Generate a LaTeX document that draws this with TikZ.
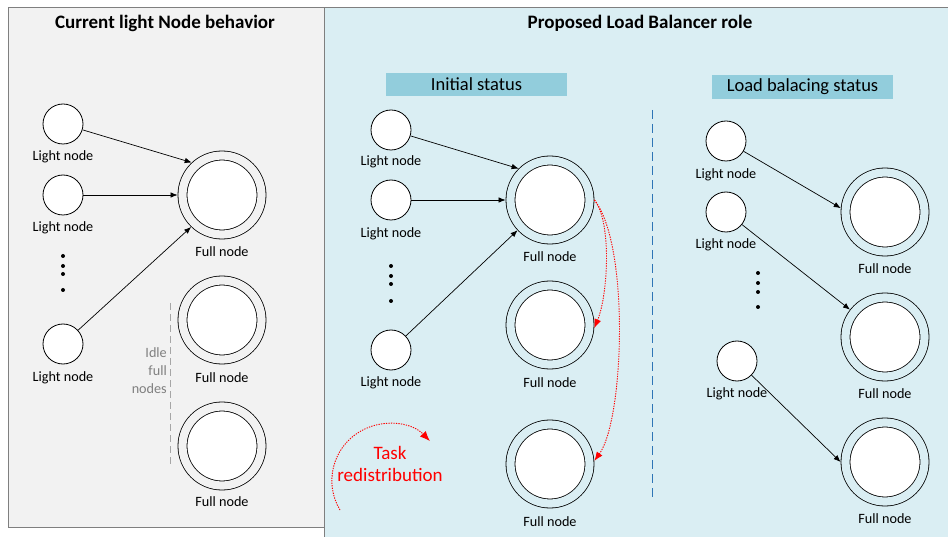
\documentclass[tikz,border=0pt]{standalone}
\usepackage{fontspec}
\setmainfont{Carlito}
\usetikzlibrary{arrows.meta}
\definecolor{leftbg}{HTML}{F2F2F2}
\definecolor{rightbg}{HTML}{DAEEF3}
\definecolor{headbg}{HTML}{92CDDC}
\definecolor{framegray}{HTML}{7F7F7F}
\definecolor{idlegray}{HTML}{808080}
\definecolor{sepblue}{HTML}{2E75B6}
\definecolor{taskred}{HTML}{FF0000}
\begin{document}
\begin{tikzpicture}[x=1pt,y=-1pt,
  lightnode/.style={circle,draw,fill=white,line width=0.8pt,minimum size=40pt,inner sep=0pt},
  fullnode/.style={circle,draw,fill=white,line width=0.8pt,double=#1,double distance=8.2pt,minimum size=79pt,inner sep=0pt,outer sep=4.9pt},
  lbl/.style={font=\fontsize{14.2}{17}\selectfont,inner sep=0pt},
  paneltitle/.style={font=\fontsize{19}{23}\selectfont\bfseries},
  header/.style={fill=headbg,minimum width=181pt,minimum height=23pt,inner sep=0pt,font=\fontsize{18.5}{22}\selectfont},
  arr/.style={-{Latex[length=7pt,width=5.5pt]},line width=0.7pt},
  redarr/.style={taskred,line width=0.9pt,dash pattern=on 1.3pt off 1.2pt,-{Latex[length=9pt,width=7pt]}},
  dotmark/.style={circle,fill=black,inner sep=0pt,minimum size=4pt}
]
\useasboundingbox (0,0) rectangle (948,537);
\fill[white] (0,0) rectangle (948,537);
% panels
\draw[framegray,fill=rightbg,line width=0.8pt] (324,7) rectangle (960,545);
\draw[framegray,fill=leftbg,line width=0.8pt] (8,7) rectangle (324,527);
\node[paneltitle] (t1) at (165,23) {Current light Node behavior};
\node[paneltitle] (t2) at (640,23) {Proposed Load Balancer role};

% ---------- left panel ----------
\node[lightnode] (l1) at (63,124) {};
\node[lbl] (l1t) at (63,157) {Light node};
\node[lightnode] (l2) at (63,195) {};
\node[lbl] (l2t) at (63,228) {Light node};
\node[dotmark] (ld1) at (63,256) {};
\node[dotmark] (ld2) at (63,266) {};
\node[dotmark] (ld3) at (63,274) {};
\node[dotmark] (ld4) at (63,290) {};
\node[lightnode] (l3) at (63,344) {};
\node[lbl] (l3t) at (63,378) {Light node};

\node[fullnode=leftbg] (f1) at (222,195) {};
\node[lbl] (f1t) at (222,252) {Full node};
\node[fullnode=leftbg] (f2) at (222,320) {};
\node[lbl] (f2t) at (222,378) {Full node};
\node[fullnode=leftbg] (f3) at (222,446) {};
\node[lbl] (f3t) at (222,502) {Full node};

\coordinate (idletop) at (170,303);
\coordinate (idlebot) at (170,465);
\draw[idlegray!70,line width=0.8pt,dash pattern=on 7pt off 4pt] (idletop) -- (idlebot);
\node[lbl,text=idlegray,align=right,anchor=east,font=\fontsize{14.2}{18}\selectfont] (idle) at (167,371) {Idle\\full\\nodes};

\draw[arr] (l1) -- (f1.133);
\draw[arr] (l2) -- (f1.180);
\draw[arr] (l3) -- (f1.226);

% ---------- middle: initial status ----------
\node[header] (h1) at (476.5,84.5) {Initial status};
\node[lightnode] (m1) at (391,130) {};
\node[lbl] (m1t) at (391,162) {Light node};
\node[lightnode] (m2) at (391,200) {};
\node[lbl] (m2t) at (391,234) {Light node};
\node[dotmark] (md1) at (391,266) {};
\node[dotmark] (md2) at (391,276) {};
\node[dotmark] (md3) at (391,284) {};
\node[dotmark] (md4) at (391,301) {};
\node[lightnode] (m3) at (391,350) {};
\node[lbl] (m3t) at (391,383) {Light node};

\node[fullnode=rightbg] (mf1) at (550,200) {};
\node[lbl] (mf1t) at (550,257) {Full node};
\node[fullnode=rightbg] (mf2) at (550,325) {};
\node[lbl] (mf2t) at (550,383) {Full node};
\node[fullnode=rightbg] (mf3) at (550,464) {};
\node[lbl] (mf3t) at (550,522) {Full node};

\draw[arr] (m1) -- (mf1.135);
\draw[arr] (m2) -- (mf1.180);
\draw[arr] (m3) -- (mf1.223);

\draw[redarr] (mf1.0) .. controls (612,222) and (608,295) .. (mf2.356);
\draw[redarr] (mf1.0) .. controls (630,245) and (624,420) .. (mf3.4);

\coordinate (taskstart) at (340,510);
\draw[redarr,-{Latex[length=10pt,width=8pt]}] (taskstart) arc[start angle=149,end angle=316,radius=57];
\node[text=taskred,align=center,font=\fontsize{19}{22}\selectfont] (task) at (390,464) {Task\\redistribution};

% separator
\coordinate (septop) at (652,110);
\coordinate (sepbot) at (652,498);
\draw[sepblue,line width=0.9pt,dash pattern=on 9pt off 5pt] (septop) -- (sepbot);

% ---------- right: load balancing ----------
\node[header,minimum height=24pt] (h2) at (802.5,87) {Load balacing status};
\node[lightnode] (r1) at (726,141) {};
\node[lbl] (r1t) at (726,175) {Light node};
\node[lightnode] (r2) at (726,212) {};
\node[lbl] (r2t) at (726,245) {Light node};
\node[dotmark] (rd1) at (758,273) {};
\node[dotmark] (rd2) at (758,283) {};
\node[dotmark] (rd3) at (758,292) {};
\node[dotmark] (rd4) at (758,307) {};
\node[lightnode] (r3) at (737,361) {};
\node[lbl] (r3t) at (737,394) {Light node};

\node[fullnode=rightbg] (rf1) at (885,212) {};
\node[lbl] (rf1t) at (885,269) {Full node};
\node[fullnode=rightbg] (rf2) at (885,337) {};
\node[lbl] (rf2t) at (885,394) {Full node};
\node[fullnode=rightbg] (rf3) at (885,462) {};
\node[lbl] (rf3t) at (885,519) {Full node};

\draw[arr] (r1) -- (rf1.175);
\draw[arr] (r2) -- (rf2.142);
\draw[arr] (r3) -- (rf3.180);
\end{tikzpicture}
\end{document}
